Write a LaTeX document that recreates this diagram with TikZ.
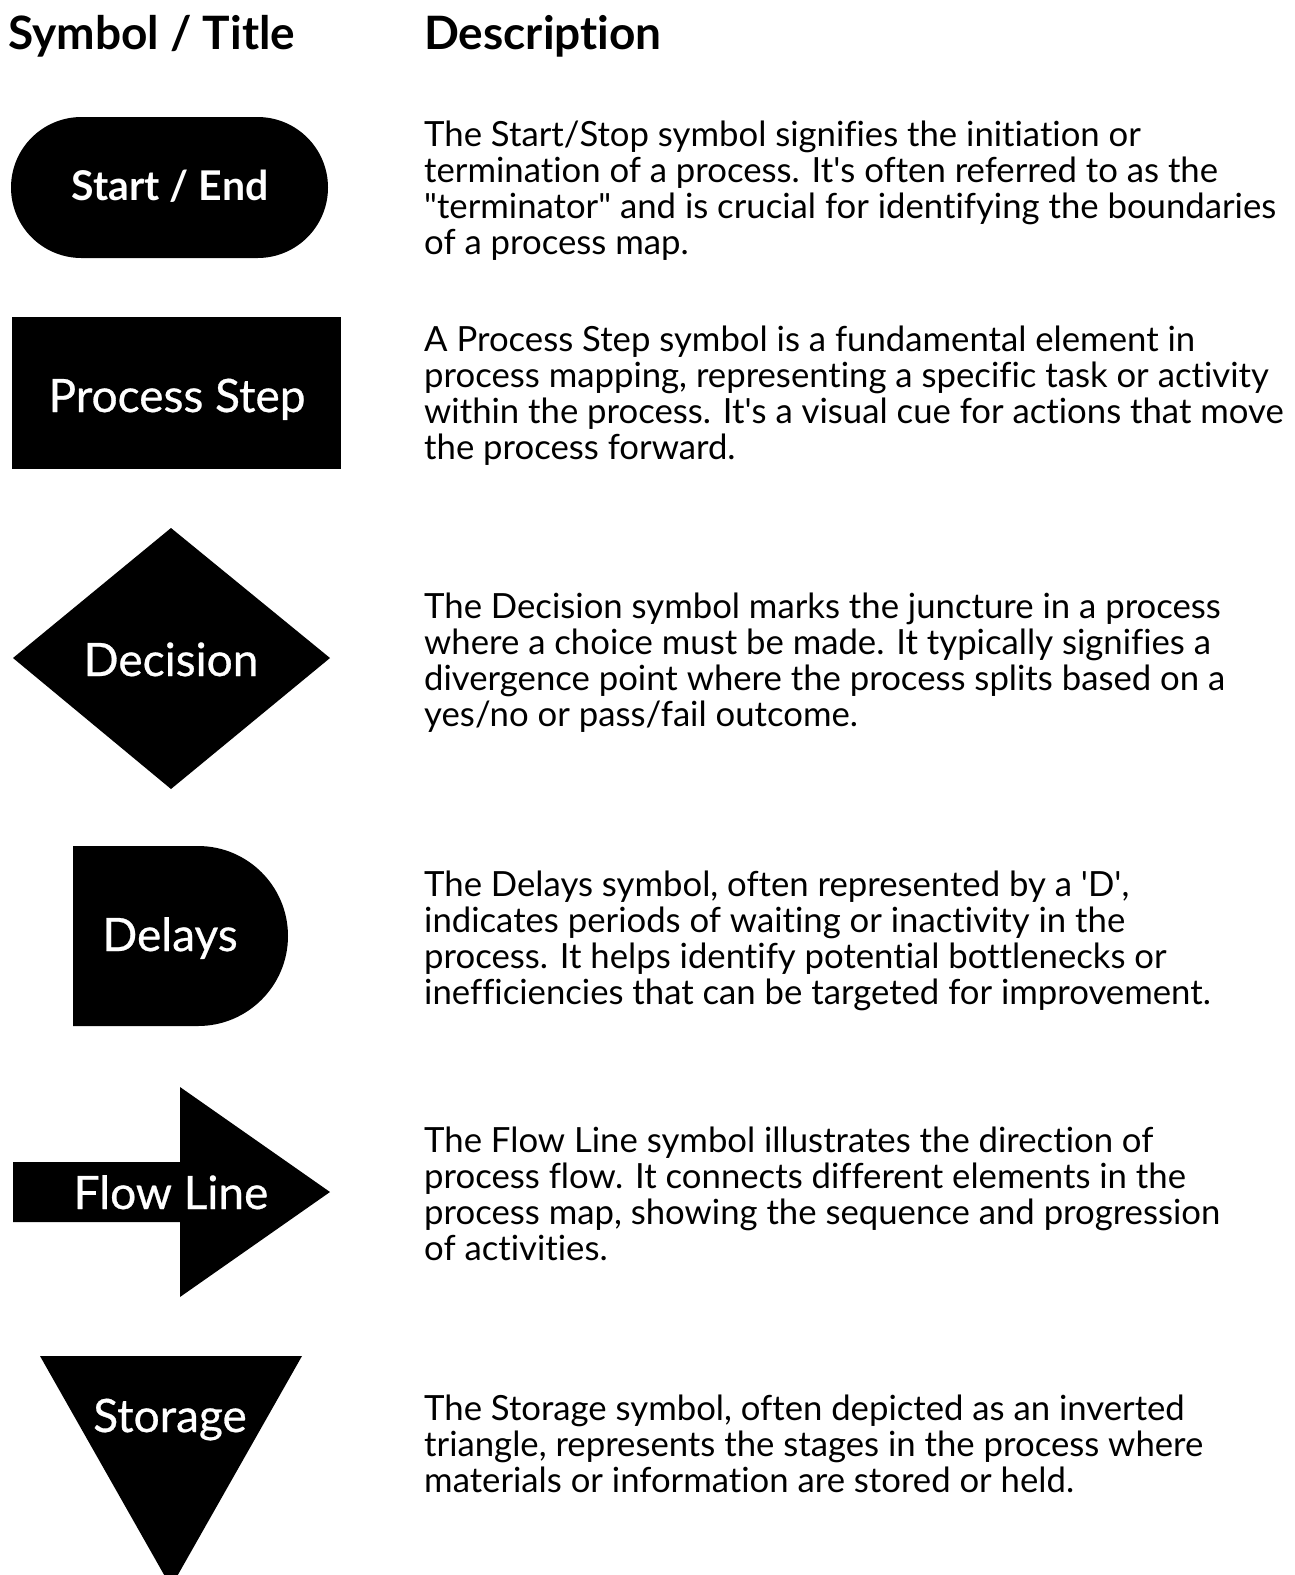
\documentclass[tikz,border=0pt]{standalone}
\usepackage{fontspec}
\setmainfont{Lato}[Ligatures=NoCommon]
\newfontfamily\labelfont[FakeBold=0.6]{Lato}
\newcommand{\apos}{\textquotesingle}
\begin{document}
\begin{tikzpicture}[x=1pt,y=-1pt,
    head/.style={anchor=base west, inner sep=0pt, font=\fontsize{46}{50}\selectfont\bfseries},
    symlabel/.style={anchor=base, inner sep=0pt, text=white, font=\fontsize{46}{50}\selectfont\labelfont},
    desc/.style={anchor=base west, inner sep=0pt, align=left, font=\fontsize{34.7}{36}\selectfont}]
    \clip (0,0) rectangle (1295,1575);

    % column heads
    \node (symhead) at (8,49) [head] {Symbol / Title};
    \node (deschead) at (424,49) [head] {Description};

    % the symbols
    \fill[rounded corners=70.5] (11,117) rectangle (328,258);
    \fill (12,317) rectangle (341,469);
    \fill (13,658) -- (171,528) -- (330,658) -- (171,789) -- cycle;
    \fill (73,846) -- (198,846) arc (-90:90:90) -- (73,1026) -- cycle;
    \fill (13,1162) -- (180,1162) -- (180,1087) -- (330,1192) -- (180,1297) -- (180,1222) -- (13,1222) -- cycle;
    \fill (40,1356) -- (302,1356) -- (171,1587) -- cycle;

    \node (startend) at (170,200) [symlabel, font=\fontsize{41}{44}\selectfont\bfseries] {Start / End};
    \node (procstep) at (177,412) [symlabel] {Process Step};
    \node (decision) at (171,676) [symlabel] {Decision};
    \node (delays) at (170,951) [symlabel] {Delays};
    \node (flowline) at (171,1209) [symlabel] {Flow Line};
    \node (storage) at (170,1432) [symlabel] {Storage};

    % descriptions (placed by the baseline of their last line)
    \node (startdesc) at (424,254) [desc] {The Start/Stop symbol signifies the initiation or\\
        termination of a process. It\apos s often referred to as the\\
        \textquotedbl terminator\textquotedbl{} and is crucial for identifying the boundaries\\
        of a process map.};
    \node (procdesc) at (424,459) [desc] {A Process Step symbol is a fundamental element in\\
        process mapping, representing a specific task or activity\\
        within the process. It\apos s a visual cue for actions that move\\
        the process forward.};
    \node (decdesc) at (424,726) [desc] {The Decision symbol marks the juncture in a process\\
        where a choice must be made. It typically signifies a\\
        divergence point where the process splits based on a\\
        yes/no or pass/fail outcome.};
    \node (delaydesc) at (424,1004) [desc] {The Delays symbol, often represented by a \apos D\apos,\\
        indicates periods of waiting or inactivity in the\\
        process. It helps identify potential bottlenecks or\\
        inefficiencies that can be targeted for improvement.};
    \node (flowdesc) at (424,1260) [desc] {The Flow Line symbol illustrates the direction of\\
        process flow. It connects different elements in the\\
        process map, showing the sequence and progression\\
        of activities.};
    \node (storedesc) at (424,1492) [desc] {The Storage symbol, often depicted as an inverted\\
        triangle, represents the stages in the process where\\
        materials or information are stored or held.};
\end{tikzpicture}
\end{document}
